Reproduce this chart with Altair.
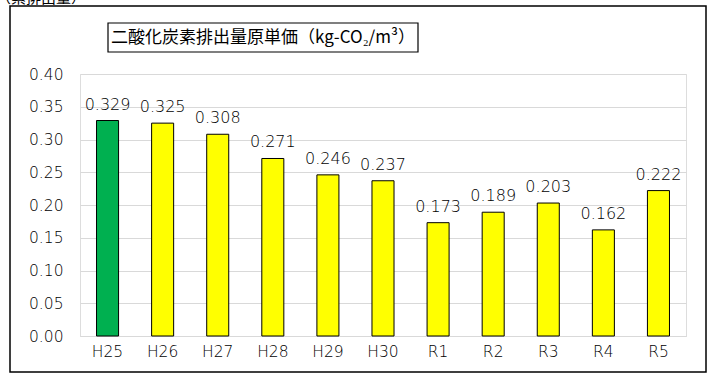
import altair as alt
import pandas as pd

categories = ["H25", "H26", "H27", "H28", "H29", "H30", "R1", "R2", "R3", "R4", "R5"]
values = [0.329, 0.325, 0.308, 0.271, 0.246, 0.237, 0.173, 0.189, 0.203, 0.162, 0.222]
groups = ["base", "other", "other", "other", "other", "other", "other", "other", "other", "other", "other"]
labels = ["0.329", "0.325", "0.308", "0.271", "0.246", "0.237", "0.173", "0.189", "0.203", "0.162", "0.222"]
y_ticks = [0.0, 0.05, 0.1, 0.15, 0.2, 0.25, 0.3, 0.35, 0.4]
title_text = "二酸化炭素排出量原単価（kg-CO₂/m³）"
corner_text = "（累排出量）"

df = pd.DataFrame({"cat": categories, "val": values, "grp": groups, "lab": labels})

FONT = "DejaVu Sans"
JFONT = "Noto Sans CJK JP"

x_enc = alt.X("cat:N", sort=categories, title=None,
              scale=alt.Scale(paddingInner=0.6, paddingOuter=0.3),
              axis=alt.Axis(labelAngle=0, labelFontSize=15.5, labelColor="#000000",
                            labelFont=FONT, labelFontWeight=300, ticks=False,
                            domainColor="#d9d9d9", domainWidth=1, labelPadding=8))
y_enc = alt.Y("val:Q", title=None,
              scale=alt.Scale(domain=[0, 0.4], nice=False),
              axis=alt.Axis(values=y_ticks, format=".2f", labelFontSize=15.5,
                            labelColor="#000000", labelFont=FONT, labelFontWeight=300,
                            ticks=False, domain=False, gridColor="#d9d9d9", gridWidth=1,
                            labelPadding=17, labelOverlap=False))

bars = alt.Chart(df).mark_bar(stroke="black", strokeWidth=1).encode(
    x=x_enc, y=y_enc,
    color=alt.Color("grp:N", scale=alt.Scale(domain=["base", "other"],
                                             range=["#00B050", "#FFFF00"]), legend=None),
)

text = alt.Chart(df).mark_text(baseline="bottom", dy=-8, fontSize=16, font=FONT,
                               fontWeight=300, color="#000000").encode(
    x=x_enc, y=y_enc, text="lab:N")

frame = alt.Chart(pd.DataFrame({"a": [0]})).mark_rect(
    fill=None, stroke="black", strokeWidth=1.5).encode(
    x=alt.value(-70), x2=alt.value(626), y=alt.value(-68), y2=alt.value(298))

title_box = alt.Chart(pd.DataFrame({"a": [0]})).mark_rect(
    fill="white", stroke="black", strokeWidth=1.2).encode(
    x=alt.value(28), x2=alt.value(338), y=alt.value(-51), y2=alt.value(-22))

title_txt = alt.Chart(pd.DataFrame({"t": [title_text]})).mark_text(
    fontSize=17, font=JFONT, color="black", align="center", baseline="middle").encode(
    x=alt.value(183), y=alt.value(-36.5), text="t:N")

corner = alt.Chart(pd.DataFrame({"t": [corner_text]})).mark_text(
    fontSize=15, font=JFONT, color="black", align="left", baseline="alphabetic").encode(
    x=alt.value(-84), y=alt.value(-71), text="t:N")

chart = alt.layer(frame, bars, text, title_box, title_txt, corner).properties(
    width=606, height=262,
    autosize=alt.AutoSizeParams(type="none"),
    padding={"left": 80, "top": 74, "right": 28, "bottom": 40},
).configure_view(stroke=None).configure(background="white")

chart.save("out.html", embed_options={"renderer": "svg", "actions": False})
